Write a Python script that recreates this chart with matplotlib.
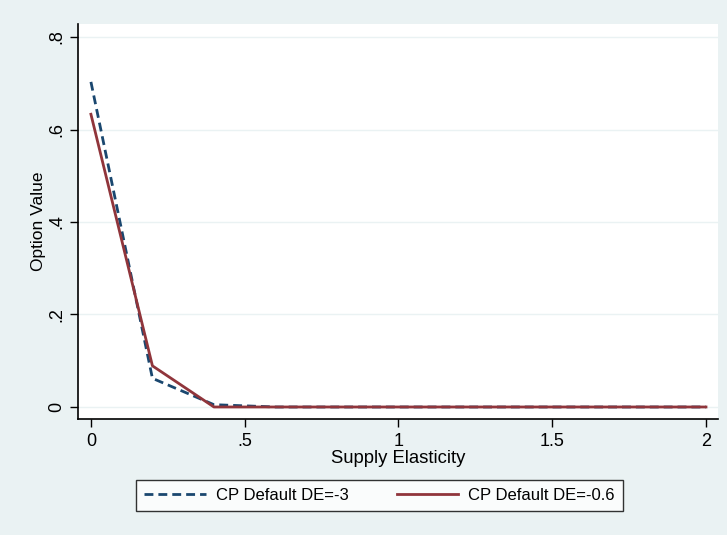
import numpy as np
import matplotlib.pyplot as plt

plt.rcParams['font.family'] = ['Liberation Sans', 'DejaVu Sans']

# Supply elasticity grid and option values
elasticity = [0, 0.2, 0.4, 0.6, 0.8, 1.0, 1.2, 1.4, 1.6, 1.8, 2.0]
de_minus3 = [0.703, 0.062, 0.005, 0.0, 0.0, 0.0, 0.0, 0.0, 0.0, 0.0, 0.0]
de_minus06 = [0.633, 0.089, 0.0, 0.0, 0.0, 0.0, 0.0, 0.0, 0.0, 0.0, 0.0]

x_ticks = [0, 0.5, 1, 1.5, 2]
x_labels = ['0', '.5', '1', '1.5', '2']
y_ticks = [0, 0.2, 0.4, 0.6, 0.8]
y_labels = ['0', '.2', '.4', '.6', '.8']

bg = '#EAF2F3'
fig = plt.figure(figsize=(7.27, 5.35), dpi=100, facecolor=bg)
ax = fig.add_axes([0.1073, 0.2168, 0.8803, 0.7382])
ax.set_facecolor('white')

ax.plot(elasticity, de_minus3, color='#1A476F', lw=2, ls=(0, (3.2, 1.8)),
        label='CP Default DE=-3')
ax.plot(elasticity, de_minus06, color='#90353B', lw=2,
        label='CP Default DE=-0.6')

ax.set_xlim(-0.042, 2.039)
ax.set_ylim(-0.026, 0.828)
ax.set_xticks(x_ticks)
ax.set_xticklabels(x_labels)
ax.set_yticks(y_ticks)
ax.set_yticklabels(y_labels, rotation=90, va='center')
ax.tick_params(labelsize=13, length=6, width=1, color='black')
ax.tick_params(axis='x', pad=4)
ax.tick_params(axis='y', pad=3)
ax.grid(axis='y', color=bg, lw=1)
ax.set_axisbelow(True)

for s in ['top', 'right']:
    ax.spines[s].set_visible(False)
for s in ['left', 'bottom']:
    ax.spines[s].set_linewidth(1.2)

ax.set_xlabel('Supply Elasticity', fontsize=13.3, labelpad=0)
ax.set_ylabel('Option Value', fontsize=12.5, labelpad=2)

leg = fig.legend(loc='center', bbox_to_anchor=(0.522, 0.0738), ncol=2,
                 fontsize=12, frameon=True, fancybox=False, edgecolor='black',
                 handlelength=3.7, handletextpad=0.6, columnspacing=2.9,
                 borderpad=0.5)
leg.get_frame().set_linewidth(1)

fig.savefig('out.png', dpi=100, facecolor=bg)
